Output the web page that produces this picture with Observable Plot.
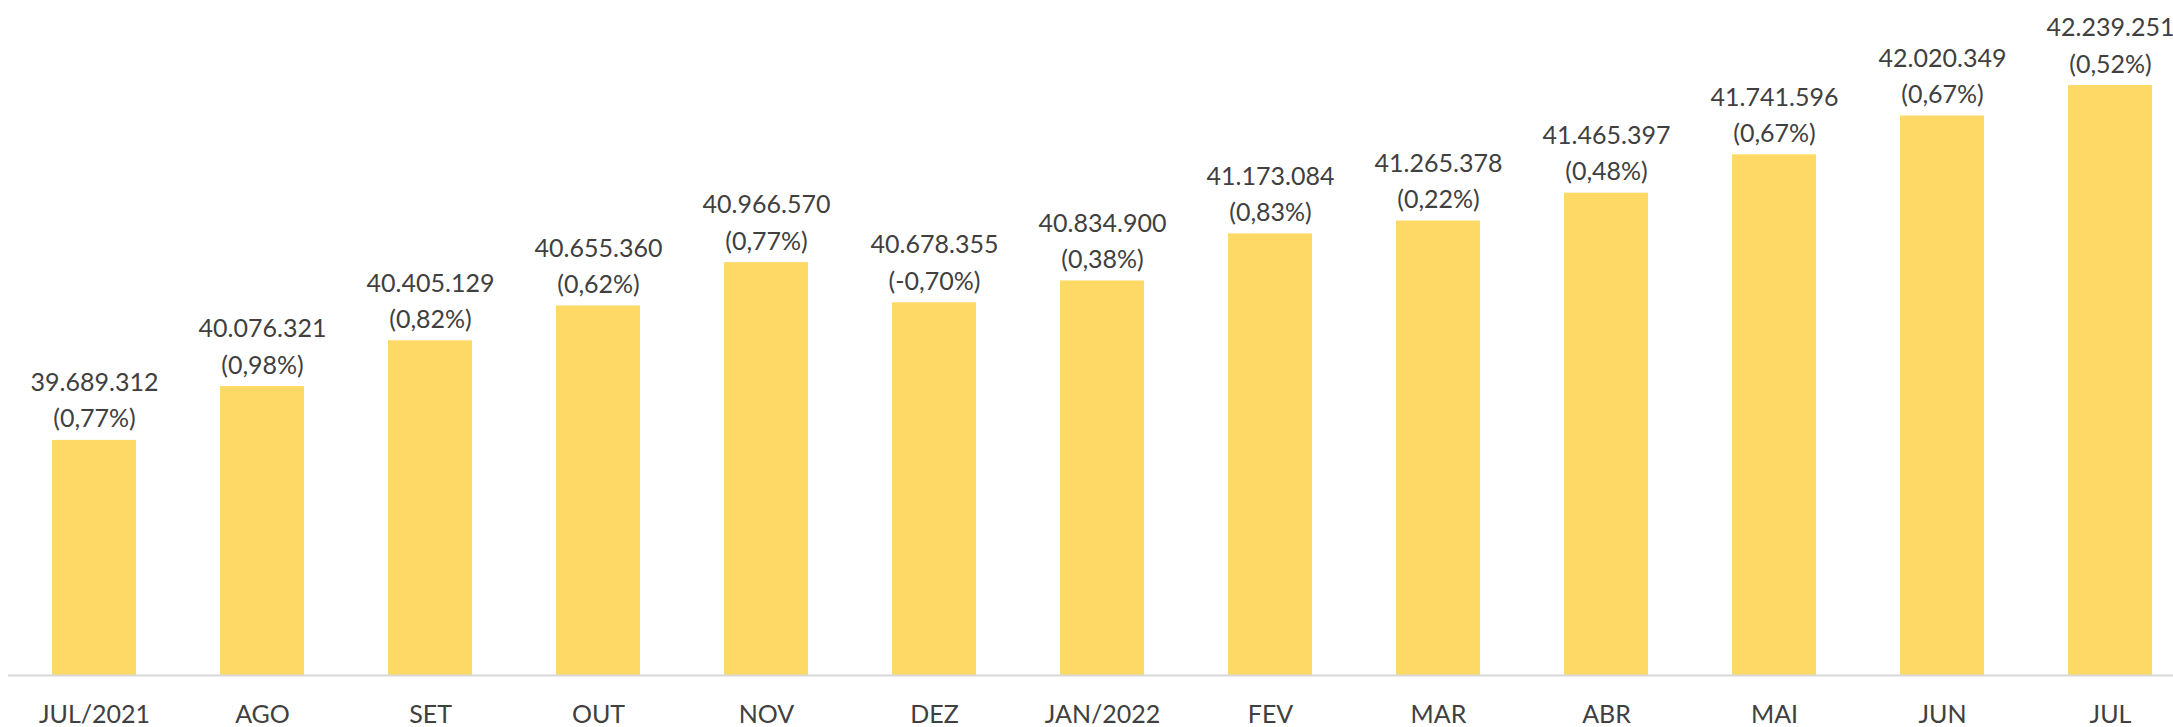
<!DOCTYPE html>
<html>
<head>
<meta charset="utf-8">
<script src="https://cdn.jsdelivr.net/npm/d3@7"></script>
<script src="https://cdn.jsdelivr.net/npm/@observablehq/plot@0.6"></script>
<style>
  html, body { margin: 0; padding: 0; background: #fff; }
  #chart svg { display: block; }
</style>
</head>
<body>
<div id="chart"></div>
<script>
const categories = ["JUL/2021","AGO","SET","OUT","NOV","DEZ","JAN/2022","FEV","MAR","ABR","MAI","JUN","JUL"];
const values = [39689312,40076321,40405129,40655360,40966570,40678355,40834900,41173084,41265378,41465397,41741596,42020349,42239251];
const changes = ["0,77%","0,98%","0,82%","0,62%","0,77%","-0,70%","0,38%","0,83%","0,22%","0,48%","0,67%","0,67%","0,52%"];

const fmt = v => d3.format(",")(v).replace(/,/g, ".");
const data = categories.map((c, i) => ({cat: c, value: values[i], label: fmt(values[i]) + "\n(" + changes[i] + ")"}));

const chart = Plot.plot({
  width: 2173,
  height: 727,
  marginLeft: 8,
  marginRight: 0,
  marginTop: 0,
  marginBottom: 52,
  style: {fontFamily: "Lato, sans-serif", fontSize: "24px", color: "#404040", background: "#fff"},
  x: {domain: categories, paddingInner: 0.5, paddingOuter: 0.185, align: 0.67, label: null, tickSize: 0, tickPadding: 28},
  y: {domain: [38000000, 42850000], axis: null},
  marks: [
    Plot.barY(data, {x: "cat", y1: 38000000, y2: "value", fill: "#FFD966"}),
    Plot.ruleY([38000000], {stroke: "#D9D9D9", strokeWidth: 2}),
    Plot.text(data, {x: "cat", y: "value", text: "label", lineAnchor: "bottom", dy: -13, lineHeight: 1.45, fill: "#404040", fontSize: 25}),
    Plot.axisX({tickSize: 0, tickPadding: 30, fontSize: 25, fill: "#404040", label: null})
  ]
});
document.getElementById("chart").appendChild(chart);
</script>
</body>
</html>
